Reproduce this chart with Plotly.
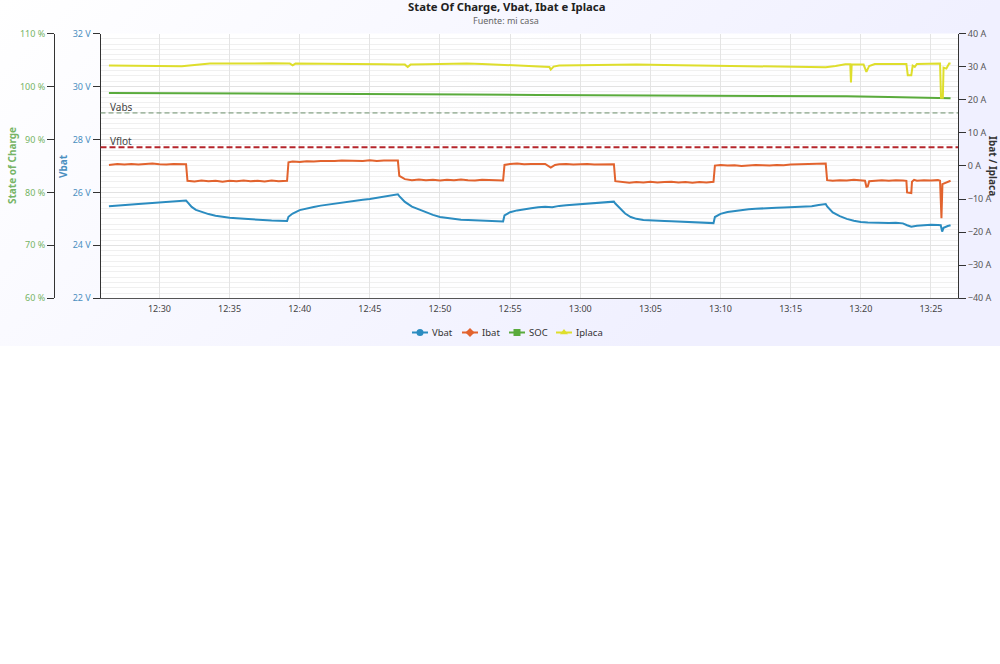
import base64
import pandas as pd
import plotly.graph_objects as go

# ---------------- data (minutes after 12:00, value) ----------------
TITLE = "State Of Charge, Vbat, Ibat e Iplaca"
SUBTITLE = "Fuente: mi casa"
DAY = "2016-01-01 12:00:00"
SERIES = ["Vbat", "Ibat", "SOC", "Iplaca"]

VBAT = [
    (26.4, 25.48), (27.0, 25.51), (27.5, 25.53), (28.0, 25.55), (28.5, 25.56), (29.0, 25.58),
    (29.5, 25.60), (30.0, 25.61), (30.5, 25.63), (31.0, 25.64), (31.5, 25.66), (31.9, 25.69),
    (32.0, 25.63), (32.3, 25.45), (32.6, 25.34), (33.0, 25.26), (33.5, 25.18), (34.0, 25.12),
    (34.5, 25.07), (35.0, 25.04), (35.5, 25.02), (36.0, 25.00), (36.5, 24.98), (37.0, 24.97),
    (37.5, 24.95), (38.0, 24.94), (38.5, 24.93), (39.1, 24.92),
    (39.2, 25.08), (39.5, 25.20), (40.0, 25.33), (40.5, 25.40), (41.0, 25.45), (41.5, 25.50),
    (42.0, 25.54), (42.5, 25.58), (43.0, 25.61), (43.5, 25.65), (44.0, 25.69), (44.5, 25.72),
    (45.0, 25.75), (45.5, 25.79), (46.0, 25.83), (46.5, 25.87), (47.0, 25.93),
    (47.1, 25.86), (47.5, 25.64), (48.0, 25.46), (48.5, 25.35), (49.0, 25.24), (49.5, 25.15),
    (50.0, 25.07), (50.5, 25.03), (51.0, 25.00), (51.5, 24.97), (52.0, 24.96), (52.5, 24.95),
    (53.0, 24.93), (53.5, 24.93), (54.0, 24.91), (54.5, 24.90),
    (54.6, 25.13), (55.0, 25.25), (55.5, 25.32), (56.0, 25.37), (56.5, 25.40), (57.0, 25.44),
    (57.5, 25.46), (58.0, 25.44), (58.5, 25.49), (59.0, 25.51), (59.5, 25.53), (60.0, 25.55),
    (60.5, 25.57), (61.0, 25.59), (61.5, 25.61), (62.0, 25.63), (62.4, 25.65),
    (62.5, 25.58), (62.8, 25.40), (63.2, 25.20), (63.6, 25.07), (64.0, 25.00), (64.5, 24.96),
    (65.0, 24.94), (65.5, 24.93), (66.0, 24.92), (66.5, 24.91), (67.0, 24.90), (67.5, 24.89),
    (68.0, 24.88), (68.5, 24.87), (69.0, 24.86), (69.5, 24.84),
    (69.6, 25.07), (70.0, 25.19), (70.5, 25.26), (71.0, 25.30), (71.5, 25.33), (72.0, 25.36),
    (72.5, 25.38), (73.0, 25.40), (73.5, 25.41), (74.0, 25.42), (74.5, 25.43), (75.0, 25.44),
    (75.5, 25.45), (76.0, 25.46), (76.5, 25.48), (77.0, 25.52), (77.5, 25.56),
    (77.6, 25.47), (78.0, 25.24), (78.5, 25.10), (79.0, 25.00), (79.5, 24.93), (80.0, 24.88),
    (80.5, 24.86), (81.0, 24.85), (81.5, 24.86), (82.0, 24.84), (82.5, 24.85), (83.0, 24.83),
    (83.3, 24.76), (83.6, 24.70), (84.0, 24.74), (84.5, 24.77), (85.0, 24.78), (85.5, 24.77),
    (85.7, 24.76), (85.8, 24.52), (85.9, 24.66), (86.2, 24.73), (86.4, 24.76),
]

IBAT = [
    (26.4, 0.3), (27.0, 0.6), (27.5, 0.4), (28.0, 0.6), (28.5, 0.4), (29.0, 0.5), (29.5, 0.7),
    (30.0, 0.5), (30.5, 0.4), (31.0, 0.6), (31.5, 0.5), (31.9, 0.5),
    (32.0, -4.5), (32.5, -4.7), (33.0, -4.4), (33.5, -4.6), (34.0, -4.5), (34.5, -4.8),
    (35.0, -4.5), (35.5, -4.6), (36.0, -4.4), (36.5, -4.6), (37.0, -4.5), (37.5, -4.7),
    (38.0, -4.4), (38.5, -4.6), (39.1, -4.5),
    (39.2, 1.1), (39.5, 1.3), (40.0, 1.2), (40.5, 1.4), (41.0, 1.3), (41.5, 1.5), (42.0, 1.4),
    (42.5, 1.5), (43.0, 1.6), (43.5, 1.5), (44.0, 1.6), (44.5, 1.5), (45.0, 1.7), (45.5, 1.5),
    (46.0, 1.6), (46.5, 1.5), (47.0, 1.6),
    (47.1, -3.0), (47.5, -4.0), (48.0, -4.3), (48.5, -4.1), (49.0, -4.3), (49.5, -4.2),
    (50.0, -4.4), (50.5, -4.2), (51.0, -4.3), (51.5, -4.1), (52.0, -4.3), (52.5, -4.4),
    (53.0, -4.2), (53.5, -4.3), (54.0, -4.5), (54.5, -4.4),
    (54.6, 0.3), (55.0, 0.6), (55.5, 0.7), (56.0, 0.5), (56.5, 0.6), (57.0, 0.5), (57.5, 0.6),
    (57.9, -0.5), (58.2, 0.3), (58.5, 0.5), (59.0, 0.6), (59.5, 0.4), (60.0, 0.5), (60.5, 0.6),
    (61.0, 0.4), (61.5, 0.5), (62.0, 0.6), (62.4, 0.5),
    (62.5, -4.6), (63.0, -4.9), (63.5, -5.1), (64.0, -4.9), (64.5, -5.0), (65.0, -4.8),
    (65.5, -5.0), (66.0, -4.9), (66.5, -4.8), (67.0, -5.0), (67.5, -4.9), (68.0, -5.1),
    (68.5, -4.9), (69.0, -5.0), (69.5, -4.8),
    (69.6, 0.1), (70.0, 0.3), (70.5, 0.1), (71.0, 0.2), (71.5, 0.0), (72.0, 0.2), (72.5, 0.3),
    (73.0, 0.2), (73.5, 0.1), (74.0, 0.3), (74.5, 0.2), (75.0, 0.4), (75.5, 0.5), (76.0, 0.4),
    (76.5, 0.6), (77.0, 0.8), (77.5, 0.7),
    (77.6, -4.3), (78.0, -4.5), (78.5, -4.3), (79.0, -4.4), (79.5, -4.2), (80.0, -4.4),
    (80.3, -4.5), (80.4, -6.3), (80.5, -6.2), (80.6, -4.6), (81.0, -4.4), (81.5, -4.3),
    (82.0, -4.5), (82.5, -4.3), (83.0, -4.4), (83.25, -4.5), (83.3, -8.0), (83.6, -8.2),
    (83.65, -4.8), (83.8, -4.2), (84.0, -4.5), (84.5, -4.3), (85.0, -4.4), (85.5, -4.3),
    (85.65, -4.5), (85.75, -15.8), (85.82, -5.5), (86.0, -5.2), (86.2, -4.8), (86.4, -4.5),
]

SOC = [
    (26.4, 98.78), (32.0, 98.74), (37.0, 98.70), (42.0, 98.64), (47.0, 98.56), (52.0, 98.48),
    (57.0, 98.40), (62.0, 98.36), (67.0, 98.33), (72.0, 98.30), (76.0, 98.25), (79.0, 98.15),
    (82.0, 98.02), (84.0, 97.92), (86.4, 97.76),
]

IPLACA = [
    (26.4, 30.3), (27.0, 30.3), (28.0, 30.2), (29.0, 30.2), (30.0, 30.2), (31.0, 30.1),
    (31.6, 30.1), (32.5, 30.5), (33.6, 30.9), (35.0, 30.9), (36.0, 31.0), (37.0, 30.9),
    (38.0, 31.0), (39.3, 30.9), (39.5, 30.4), (39.7, 30.9), (41.0, 30.9), (42.0, 30.8),
    (43.0, 30.9), (44.0, 30.8), (45.0, 30.8), (46.0, 30.7), (47.0, 30.6), (47.5, 30.6),
    (47.7, 29.9), (47.9, 30.6), (49.0, 30.7), (50.0, 30.8), (51.0, 30.8), (51.9, 30.9),
    (53.0, 30.8), (54.0, 30.6), (55.0, 30.5), (56.0, 30.4), (57.1, 30.1), (57.8, 29.9),
    (57.9, 29.1), (58.1, 30.0), (58.5, 30.3), (60.0, 30.4), (62.0, 30.6), (64.0, 30.6),
    (66.0, 30.5), (68.0, 30.4), (70.0, 30.3), (72.0, 30.1), (74.0, 29.9), (76.0, 29.8),
    (77.5, 29.8), (78.2, 30.2), (78.9, 30.7), (79.25, 30.7), (79.3, 25.2), (79.35, 30.6),
    (80.2, 30.6), (80.4, 28.4), (80.6, 30.2), (81.0, 30.8), (82.0, 30.9), (83.0, 30.9),
    (83.25, 30.8), (83.35, 27.4), (83.6, 27.4), (83.7, 30.3), (83.85, 29.9), (84.0, 30.8),
    (85.0, 30.9), (85.65, 30.9), (85.72, 20.6), (85.85, 20.6), (85.9, 29.7), (86.1, 29.4),
    (86.3, 30.9), (86.4, 30.9),
]

VABS = 29.0
VFLOT = 27.7
X_RANGE_MIN = [25.8, 86.93]
VBAT_RANGE = [22, 32]
SOC_RANGE = [60, 110]
AMP_RANGE = [-40, 40]

# ---------------- style ----------------
C_VBAT = "#2b8cc0"
C_IBAT = "#e2632e"
C_SOC = "#5aab3c"
C_IPLACA = "#dede2c"
C_SOC_TXT = "#76b466"
C_VBAT_TXT = "#4a8fc0"
FONT = "Noto Sans"
W, H = 1000, 664
PX_L, PX_R, PX_T, PX_B = 100.5, 958, 33.5, 298.3

base = pd.Timestamp(DAY)


def tx(m):
    return base + pd.Timedelta(minutes=m)


def split(pairs):
    return [tx(p[0]) for p in pairs], [p[1] for p in pairs]


COLORS = {"Vbat": C_VBAT, "Ibat": C_IBAT, "SOC": C_SOC, "Iplaca": C_IPLACA}
DATA = {"Vbat": (VBAT, "y"), "Ibat": (IBAT, "y3"), "SOC": (SOC, "y2"), "Iplaca": (IPLACA, "y3")}

fig = go.Figure()
for name in SERIES:
    pairs, axis = DATA[name]
    xs, ys = split(pairs)
    fig.add_trace(go.Scatter(x=xs, y=ys, yaxis=axis, name=name, mode="lines",
                             line=dict(color=COLORS[name], width=2), showlegend=False,
                             hoverinfo="skip"))

# ---- legend drawn on a pixel overlay axis (x2 / y4) ----
LEG_SYMBOLS = {"Vbat": "circle", "Ibat": "diamond", "SOC": "square", "Iplaca": "triangle-up"}
LEG_CENTER = {"Vbat": 420, "Ibat": 470, "SOC": 517, "Iplaca": 564}
LEG_Y = 332.5
for name in SERIES:
    cx = LEG_CENTER[name]
    fig.add_trace(go.Scatter(x=[cx - 8, cx + 8], y=[LEG_Y, LEG_Y], xaxis="x2", yaxis="y4",
                             mode="lines", line=dict(color=COLORS[name], width=2),
                             showlegend=False, hoverinfo="skip"))
    fig.add_trace(go.Scatter(x=[cx], y=[LEG_Y], xaxis="x2", yaxis="y4", mode="markers",
                             marker=dict(color=COLORS[name], symbol=LEG_SYMBOLS[name], size=7),
                             showlegend=False, hoverinfo="skip"))
    fig.add_annotation(text=name, xref="x2", yref="y4", x=cx + 10, y=LEG_Y, xanchor="left",
                       yanchor="middle", showarrow=False,
                       font=dict(size=9.5, color="#333", family=FONT))

# background gradient (svg) incl. plot area
svg = (
    f"<svg xmlns='http://www.w3.org/2000/svg' width='{W}' height='346'>"
    "<defs><linearGradient id='g' gradientUnits='userSpaceOnUse' x1='0' y1='0' x2='500' y2='500'>"
    "<stop offset='0' stop-color='#ffffff'/><stop offset='1' stop-color='rgb(240,240,255)'/>"
    "</linearGradient></defs>"
    f"<rect width='{W}' height='346' fill='url(#g)'/>"
    f"<rect x='{PX_L}' y='{PX_T}' width='{PX_R - PX_L}' height='{PX_B - PX_T}' fill='white' fill-opacity='0.9'/>"
    "</svg>"
)
src = "data:image/svg+xml;base64," + base64.b64encode(svg.encode()).decode()
fig.add_layout_image(dict(source=src, xref="paper", yref="paper", x=0, y=1,
                          sizex=1, sizey=346 / H, xanchor="left", yanchor="top",
                          sizing="stretch", layer="below"))

xd = [PX_L / W, PX_R / W]
yd = [1 - PX_B / H, 1 - PX_T / H]

fig.update_layout(
    width=W, height=H, autosize=False,
    margin=dict(l=0, r=0, t=0, b=0, pad=0),
    paper_bgcolor="white", plot_bgcolor="rgba(0,0,0,0)",
    font=dict(family=FONT, size=9, color="#444"),
    showlegend=False,
    hovermode=False,
    xaxis=dict(domain=xd, type="date", range=[tx(X_RANGE_MIN[0]), tx(X_RANGE_MIN[1])],
               tickformat="%H:%M", dtick=300000, tick0=tx(30), showgrid=True,
               gridcolor="#e4e4e4", gridwidth=1, showline=True, linecolor="#555",
               ticks="outside", ticklen=2, tickcolor="rgba(0,0,0,0)",
               tickfont=dict(size=9, color="#444"), zeroline=False, automargin=False),
    yaxis=dict(domain=yd, range=VBAT_RANGE, dtick=2, ticksuffix=" V", showgrid=True,
               gridcolor="#e2e2e2", minor=dict(dtick=0.2, showgrid=True, gridcolor="#f0f0f0"),
               showline=True, linecolor="#333", ticks="outside", ticklen=7, tickcolor="#333",
               tickfont=dict(size=9, color=C_VBAT_TXT), zeroline=False, automargin=False),
    yaxis2=dict(overlaying="y", anchor="free", position=54 / W, side="left", range=SOC_RANGE,
                dtick=10, ticksuffix=" %", showgrid=False, showline=True, linecolor="#333",
                ticks="outside", ticklen=7, tickcolor="#333",
                tickfont=dict(size=9, color=C_SOC_TXT), zeroline=False, automargin=False),
    yaxis3=dict(overlaying="y", anchor="x", side="right", range=AMP_RANGE, dtick=10,
                ticksuffix=" A", showgrid=False, showline=True, linecolor="#333",
                ticks="outside", ticklen=7, tickcolor="#333",
                tickfont=dict(size=9, color="#555"), zeroline=False, automargin=False),
    xaxis2=dict(domain=[0, 1], range=[0, W], anchor="y4", visible=False, fixedrange=True),
    yaxis4=dict(domain=[0, 1], range=[H, 0], anchor="x2", visible=False, fixedrange=True),
)

# reference lines
for val, color, width, dash, label in [(VABS, "#6b8f6b", 1, "5px,3px", "Vabs"),
                                       (VFLOT, "#b5262c", 2, "6px,3px", "Vflot")]:
    fig.add_shape(type="line", xref="paper", yref="y", x0=xd[0], x1=xd[1], y0=val, y1=val,
                  line=dict(color=color, width=width, dash=dash), layer="above")
    fig.add_annotation(text=label, xref="paper", yref="y", x=108 / W, y=val, xanchor="left",
                       yanchor="bottom", showarrow=False, yshift=-3,
                       font=dict(size=10, color="#444", family=FONT))

# titles
fig.add_annotation(text=f"<b>{TITLE}</b>", xref="paper", yref="paper", x=506 / W, y=1 - 6 / H,
                   xanchor="center", yanchor="middle", showarrow=False,
                   font=dict(size=11.3, color="#222", family=FONT))
fig.add_annotation(text=SUBTITLE, xref="paper", yref="paper", x=506 / W, y=1 - 20 / H,
                   xanchor="center", yanchor="middle", showarrow=False,
                   font=dict(size=9, color="#666", family=FONT))

# axis titles
fig.add_annotation(text="<b>State of Charge</b>", xref="paper", yref="paper", x=12 / W,
                   y=1 - 166 / H, xanchor="center", yanchor="middle", textangle=-90,
                   showarrow=False, font=dict(size=10, color=C_SOC_TXT, family=FONT))
fig.add_annotation(text="<b>Vbat</b>", xref="paper", yref="paper", x=63 / W, y=1 - 166 / H,
                   xanchor="center", yanchor="middle", textangle=-90, showarrow=False,
                   font=dict(size=10, color=C_VBAT_TXT, family=FONT))
fig.add_annotation(text="<b>Ibat / Iplaca</b>", xref="paper", yref="paper", x=993 / W,
                   y=1 - 166 / H, xanchor="center", yanchor="middle", textangle=90,
                   showarrow=False, font=dict(size=10, color="#333", family=FONT))

fig.write_html("out.html", config={"displayModeBar": False},
               post_script="document.body.style.margin='0';")
